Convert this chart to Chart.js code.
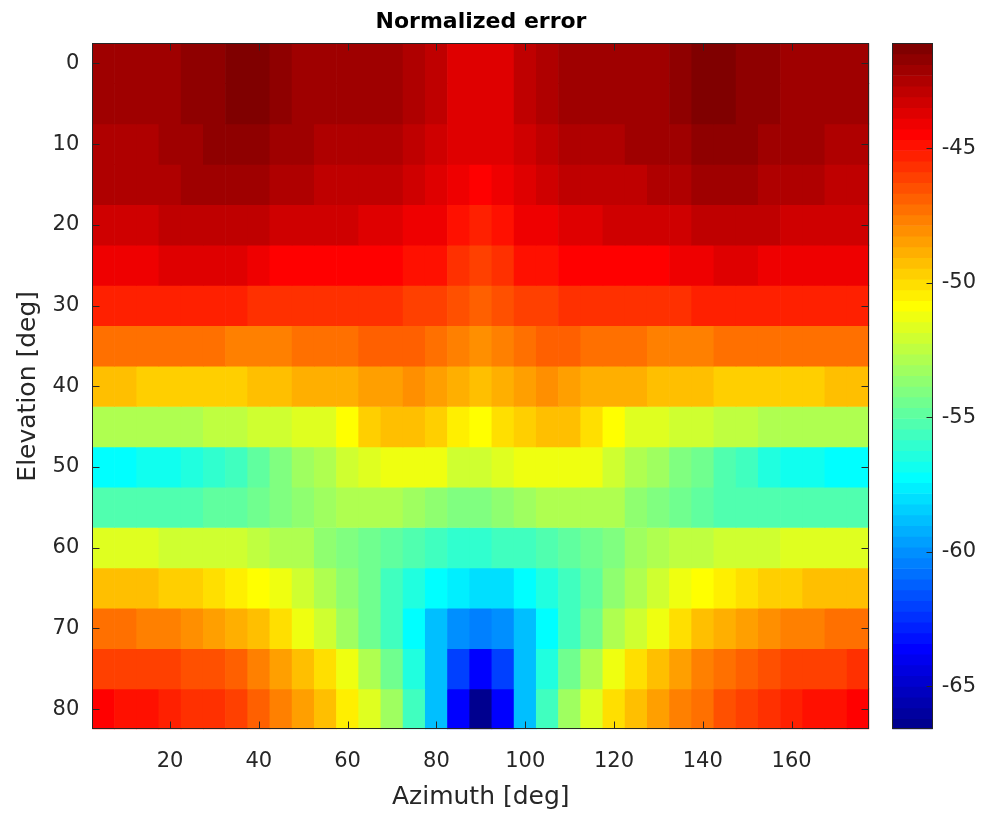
<!DOCTYPE html>
<html>
<head>
<meta charset="utf-8">
<title>Normalized error</title>
<script src="https://cdn.jsdelivr.net/npm/chart.js@4.4.1/dist/chart.umd.min.js"></script>
<style>
    html, body { margin: 0; padding: 0; background: #ffffff; }
    #wrap { position: relative; width: 984px; height: 817px; }
    #heat { position: absolute; left: 0; top: 0; }
    #cbar { position: absolute; left: 880px; top: 0; }
</style>
</head>
<body>
<div id="wrap">
    <canvas id="heat" width="962" height="817"></canvas>
    <canvas id="cbar" width="104" height="817"></canvas>
</div>
<script>
/**
 * Data
 */
const azimuths = [5, 10, 15, 20, 25, 30, 35, 40, 45, 50, 55, 60, 65, 70, 75, 80, 85, 90,
    95, 100, 105, 110, 115, 120, 125, 130, 135, 140, 145, 150, 155, 160, 165, 170, 175];
const elevations = [0, 5, 10, 15, 20, 25, 30, 35, 40, 45, 50, 55, 60, 65, 70, 75, 80];

const azimuthTicks = [20, 40, 60, 80, 100, 120, 140, 160];
const elevationTicks = [0, 10, 20, 30, 40, 50, 60, 70, 80];
const colorbarTicks = [-65, -60, -55, -50, -45];

// normalized error (dB), one array per elevation, left to right in azimuth
const errEl0 = [-42.0,-42.0,-42.0,-42.0,-41.6,-41.6,-41.2,-41.2,-41.6,-42.0,-42.0,-42.0,-42.0,-42.0,-42.4,-42.8,-43.6,-43.6,-43.6,-42.8,-42.4,-42.0,-42.0,-42.0,-42.0,-42.0,-41.6,-41.2,-41.2,-41.6,-41.6,-42.0,-42.0,-42.0,-42.0];
const errEl5 = [-42.1,-42.1,-42.1,-42.1,-41.7,-41.7,-41.3,-41.3,-41.7,-42.1,-42.1,-42.1,-42.1,-42.1,-42.5,-42.9,-43.7,-43.7,-43.7,-42.9,-42.5,-42.1,-42.1,-42.1,-42.1,-42.1,-41.7,-41.3,-41.1,-41.7,-41.7,-42.1,-42.1,-42.1,-42.1];
const errEl10 = [-42.4,-42.4,-42.4,-42.0,-42.0,-41.6,-41.6,-41.6,-42.0,-42.0,-42.4,-42.4,-42.4,-42.4,-42.8,-43.2,-43.6,-43.6,-43.6,-43.2,-42.8,-42.4,-42.4,-42.4,-42.0,-42.0,-42.0,-41.6,-41.6,-41.6,-42.0,-42.0,-42.0,-42.4,-42.4];
const errEl15 = [-42.4,-42.4,-42.4,-42.4,-42.0,-42.0,-42.0,-42.0,-42.4,-42.4,-42.8,-42.8,-42.8,-42.8,-43.2,-43.6,-44.0,-44.4,-44.0,-43.6,-43.2,-42.8,-42.8,-42.8,-42.8,-42.4,-42.4,-42.0,-42.0,-42.0,-42.4,-42.4,-42.4,-42.8,-42.8];
const errEl20 = [-43.2,-43.2,-43.2,-42.8,-42.8,-42.8,-42.8,-42.8,-43.2,-43.2,-43.2,-43.2,-43.6,-43.6,-44.0,-44.0,-44.8,-45.2,-44.8,-44.0,-44.0,-43.6,-43.6,-43.2,-43.2,-43.2,-43.2,-42.8,-42.8,-42.8,-42.8,-43.2,-43.2,-43.2,-43.2];
const errEl25 = [-44.0,-44.0,-44.0,-43.6,-43.6,-43.6,-43.6,-44.0,-44.4,-44.4,-44.4,-44.4,-44.4,-44.4,-44.8,-44.8,-45.6,-46.0,-45.6,-44.8,-44.8,-44.4,-44.4,-44.4,-44.4,-44.4,-44.0,-44.0,-43.6,-43.6,-44.0,-44.0,-44.0,-44.0,-44.0];
const errEl30 = [-45.2,-45.2,-45.2,-45.2,-45.2,-45.2,-45.2,-45.6,-45.6,-45.6,-45.6,-45.6,-45.6,-45.6,-46.0,-46.0,-46.4,-46.8,-46.4,-46.0,-46.0,-45.6,-45.6,-45.6,-45.6,-45.6,-45.6,-45.2,-45.2,-45.2,-45.2,-45.2,-45.2,-45.2,-45.2];
const errEl35 = [-47.2,-47.2,-47.2,-47.2,-47.2,-47.2,-47.6,-47.6,-47.6,-47.2,-47.2,-47.2,-46.8,-46.8,-46.8,-47.2,-47.6,-48.0,-47.6,-47.2,-46.8,-46.8,-47.2,-47.2,-47.2,-47.6,-47.6,-47.6,-47.2,-47.2,-47.2,-47.2,-47.2,-47.2,-47.2];
const errEl40 = [-49.2,-49.2,-49.6,-49.6,-49.6,-49.6,-49.6,-49.2,-49.2,-48.8,-48.8,-48.8,-48.4,-48.4,-48.0,-48.4,-48.8,-49.2,-48.8,-48.4,-48.0,-48.4,-48.8,-48.8,-48.8,-49.2,-49.2,-49.2,-49.6,-49.6,-49.6,-49.6,-49.6,-49.2,-49.2];
const errEl45 = [-52.8,-52.8,-52.8,-52.8,-52.8,-52.4,-52.4,-52.0,-52.0,-51.6,-51.6,-50.8,-49.6,-49.2,-49.2,-49.6,-50.4,-50.8,-50.0,-49.6,-49.2,-49.2,-50.0,-50.8,-51.6,-51.6,-52.0,-52.0,-52.4,-52.4,-52.8,-52.8,-52.8,-52.8,-52.8];
const errEl50 = [-57.2,-57.2,-56.8,-56.8,-56.4,-56.0,-55.6,-54.8,-54.0,-53.2,-52.8,-52.0,-51.6,-51.2,-51.2,-51.2,-52.0,-52.0,-51.6,-51.2,-51.2,-51.2,-51.2,-52.0,-52.8,-53.2,-54.0,-54.4,-55.2,-55.6,-56.4,-56.8,-56.8,-57.2,-57.2];
const errEl55 = [-55.2,-55.2,-55.2,-55.2,-55.2,-54.8,-54.8,-54.4,-54.0,-53.6,-53.2,-52.8,-52.8,-52.8,-53.2,-53.6,-54.0,-54.0,-53.6,-53.2,-52.8,-52.8,-52.8,-52.8,-53.6,-54.0,-54.4,-54.8,-55.2,-55.2,-55.2,-55.2,-55.2,-55.2,-55.2];
const errEl60 = [-51.6,-51.6,-51.6,-52.0,-52.0,-52.0,-52.0,-52.4,-52.8,-52.8,-53.6,-54.0,-54.4,-54.8,-55.2,-55.6,-56.0,-56.0,-55.6,-55.6,-55.2,-54.8,-54.4,-54.0,-53.2,-52.8,-52.4,-52.4,-52.0,-52.0,-52.0,-51.6,-51.6,-51.6,-51.6];
const errEl65 = [-49.2,-49.2,-49.2,-49.6,-49.6,-50.0,-50.4,-50.8,-51.2,-52.0,-52.8,-53.6,-54.4,-55.6,-56.4,-57.2,-57.6,-58.0,-58.0,-57.2,-56.4,-55.6,-54.8,-53.6,-52.8,-52.0,-51.2,-50.8,-50.4,-50.0,-49.6,-49.6,-49.2,-49.2,-49.2];
const errEl70 = [-47.2,-47.2,-47.6,-47.6,-48.0,-48.4,-48.8,-49.2,-50.0,-51.2,-52.0,-53.2,-54.4,-55.6,-57.2,-58.8,-60.0,-60.4,-60.0,-58.8,-57.2,-55.6,-54.4,-52.8,-52.0,-51.2,-50.0,-49.2,-48.8,-48.4,-48.0,-47.6,-47.6,-47.2,-47.2];
const errEl75 = [-46.0,-46.0,-46.0,-46.0,-46.4,-46.4,-46.8,-47.6,-48.4,-49.2,-50.0,-51.2,-52.8,-54.4,-56.4,-58.8,-62.0,-63.6,-62.0,-58.8,-56.4,-54.4,-52.8,-51.2,-50.0,-49.2,-48.4,-47.6,-47.2,-46.8,-46.4,-46.0,-46.0,-46.0,-45.6];
const errEl80 = [-44.4,-44.8,-44.8,-45.2,-45.6,-45.6,-46.0,-46.8,-47.6,-48.4,-49.2,-50.4,-51.6,-53.2,-55.6,-58.8,-63.6,-66.6,-63.6,-58.8,-55.6,-53.2,-51.6,-50.0,-49.2,-48.4,-47.6,-47.2,-46.4,-46.0,-45.6,-45.2,-44.8,-44.8,-44.4];

const errorRows = [errEl0, errEl5, errEl10, errEl15, errEl20, errEl25, errEl30, errEl35, errEl40,
    errEl45, errEl50, errEl55, errEl60, errEl65, errEl70, errEl75, errEl80];

/**
 * Colour limits and jet(64) colormap, like imagesc + colorbar
 */
const allValues = errorRows.flat();
const cMin = Math.min(...allValues);
const cMax = Math.max(...allValues);
const nColors = 64;

function jetIndex(v) {
    let k = Math.floor((v - cMin) / (cMax - cMin) * nColors) + 1;
    return Math.min(nColors, Math.max(1, k));
}

function jetColor(k) {
    const t = 4 * k / nColors;
    const clamp = (a) => Math.min(1, Math.max(0, a));
    const r = clamp(1.5 - Math.abs(t - 3));
    const g = clamp(1.5 - Math.abs(t - 2));
    const b = clamp(1.5 - Math.abs(t - 1));
    return 'rgb(' + Math.round(r * 255) + ',' + Math.round(g * 255) + ',' + Math.round(b * 255) + ')';
}

/**
 * Box with inward tick marks, drawn over the cells
 */
const framePlugin = {
    id: 'frame',
    afterDatasetsDraw(chart, args, opts) {
        const ctx = chart.ctx;
        const a = chart.chartArea;
        const len = opts.tickLength;
        const left = Math.round(a.left) + 0.5;
        const right = Math.round(a.right) - 0.5;
        const top = Math.round(a.top) + 0.5;
        const bottom = Math.round(a.bottom) - 0.5;

        ctx.save();
        ctx.strokeStyle = '#262626';
        ctx.lineWidth = 1;
        ctx.beginPath();
        if (opts.xScale) {
            const sx = chart.scales[opts.xScale];
            sx.ticks.forEach(function (t) {
                const px = Math.round(sx.getPixelForValue(t.value)) + 0.5;
                ctx.moveTo(px, bottom); ctx.lineTo(px, bottom - len);
                ctx.moveTo(px, top); ctx.lineTo(px, top + len);
            });
        }
        if (opts.yScale) {
            const sy = chart.scales[opts.yScale];
            sy.ticks.forEach(function (t) {
                const py = Math.round(sy.getPixelForValue(t.value)) + 0.5;
                if (opts.ySides.indexOf('left') !== -1) {
                    ctx.moveTo(left, py); ctx.lineTo(left + len, py);
                }
                if (opts.ySides.indexOf('right') !== -1) {
                    ctx.moveTo(right, py); ctx.lineTo(right - len, py);
                }
            });
        }
        ctx.stroke();
        ctx.strokeRect(left, top, right - left, bottom - top);
        ctx.restore();
    }
};

Chart.defaults.font.family = "'DejaVu Sans', sans-serif";
Chart.defaults.color = '#262626';

/**
 * Heat map: one floating bar per cell
 */
const halfAz = (azimuths[1] - azimuths[0]) / 2;
const halfEl = (elevations[1] - elevations[0]) / 2;

const heatDatasets = errorRows.map(function (row, i) {
    return {
        xAxisID: 'x',
        yAxisID: 'y',
        data: azimuths.map(function (az) {
            return { x: az, y: [elevations[i] - halfEl, elevations[i] + halfEl] };
        }),
        backgroundColor: row.map(function (v) { return jetColor(jetIndex(v)); }),
        borderWidth: 0,
        grouped: false,
        barPercentage: 1,
        categoryPercentage: 1
    };
});

new Chart(document.getElementById('heat'), {
    type: 'bar',
    data: { datasets: heatDatasets },
    options: {
        responsive: false,
        animation: false,
        events: [],
        layout: { padding: 0 },
        plugins: {
            legend: { display: false },
            tooltip: { enabled: false },
            title: {
                display: true,
                text: 'Normalized error',
                color: '#000000',
                font: { size: 22, weight: 'bold' },
                padding: { top: 8.8, bottom: 8.1 }
            },
            frame: { tickLength: 7, xScale: 'x', yScale: 'y', ySides: ['left', 'right'] }
        },
        scales: {
            x: {
                type: 'linear',
                position: 'bottom',
                min: azimuths[0] - halfAz,
                max: azimuths[azimuths.length - 1] + halfAz,
                offset: false,
                grid: { display: false, drawTicks: false, offset: false },
                border: { display: false },
                ticks: { font: { size: 21 }, padding: 20, maxRotation: 0 },
                afterBuildTicks: function (s) { s.ticks = azimuthTicks.map(function (v) { return { value: v }; }); },
                afterFit: function (s) { s.height = 87.7; },
                title: { display: true, text: 'Azimuth [deg]', font: { size: 25 }, padding: { top: 0, bottom: 4.6 } }
            },
            y: {
                type: 'linear',
                position: 'left',
                reverse: true,
                min: elevations[0] - halfEl,
                max: elevations[elevations.length - 1] + halfEl,
                grid: { display: false, drawTicks: false },
                border: { display: false },
                ticks: { font: { size: 21 }, padding: 13 },
                afterBuildTicks: function (s) { s.ticks = elevationTicks.map(function (v) { return { value: v }; }); },
                afterFit: function (s) { s.width = 92.3; },
                title: { display: true, text: 'Elevation [deg]', font: { size: 25 }, padding: { top: 13, bottom: 0 } }
            },
            yRight: {
                type: 'linear',
                position: 'right',
                grid: { display: false, drawTicks: false },
                border: { display: false },
                ticks: { display: false },
                afterFit: function (s) { s.width = 962 - 869.3; }
            }
        }
    },
    plugins: [framePlugin]
});

/**
 * Colorbar: 64 stacked bands on the colour axis
 */
const bandStep = (cMax - cMin) / nColors;
const bands = [];
const bandColors = [];
for (let k = 0; k < nColors; k++) {
    bands.push({ x: 0.5, y: [cMin + k * bandStep, cMin + (k + 1) * bandStep] });
    bandColors.push(jetColor(k + 1));
}

new Chart(document.getElementById('cbar'), {
    type: 'bar',
    data: {
        datasets: [{
            data: bands,
            backgroundColor: bandColors,
            borderWidth: 0,
            barPercentage: 1,
            categoryPercentage: 1
        }]
    },
    options: {
        responsive: false,
        animation: false,
        events: [],
        layout: { padding: { left: 12.3, top: 43.3, bottom: 87.7, right: 0 } },
        plugins: {
            legend: { display: false },
            tooltip: { enabled: false },
            frame: { tickLength: 6, yScale: 'y', ySides: ['right'] }
        },
        scales: {
            x: {
                type: 'linear',
                min: 0,
                max: 1,
                offset: false,
                display: false,
                afterBuildTicks: function (s) { s.ticks = []; }
            },
            y: {
                type: 'linear',
                position: 'right',
                min: cMin,
                max: cMax,
                grid: { display: false, drawTicks: false },
                border: { display: false },
                ticks: { font: { size: 21 }, padding: 9 },
                afterBuildTicks: function (s) { s.ticks = colorbarTicks.map(function (v) { return { value: v }; }); },
                afterFit: function (s) { s.width = 104 - 52.7; }
            }
        }
    },
    plugins: [framePlugin]
});
</script>
</body>
</html>
